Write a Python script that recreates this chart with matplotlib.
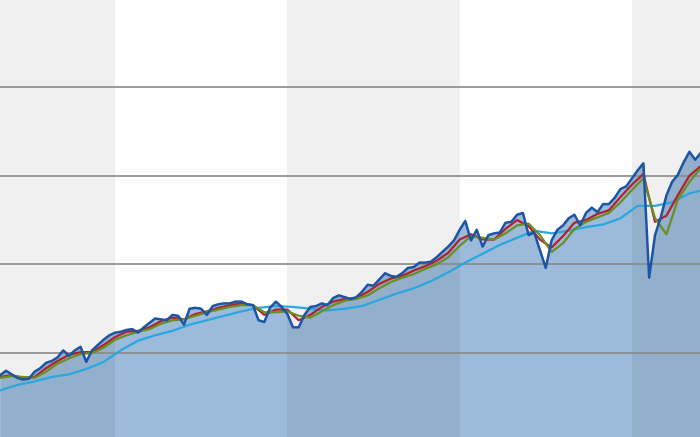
import matplotlib
matplotlib.use("Agg")
import matplotlib.pyplot as plt
import pandas as pd

# price series, sampled every two months
price_dates = pd.date_range("2001-09-01", periods=123, freq="2MS")
price = [75, 80, 76, 72, 70, 71, 79, 83, 89, 91,
         95, 103, 97, 103, 107, 90, 103, 109, 115, 120,
         123, 124, 126, 127, 123, 129, 134, 139, 138, 137,
         143, 142, 132, 150, 151, 150, 143, 153, 155, 156,
         156, 158, 158, 155, 154, 137, 135, 151, 158, 152,
         144, 129, 129, 143, 152, 153, 156, 154, 162, 165,
         163, 161, 163, 169, 177, 176, 183, 190, 187, 186,
         190, 196, 197, 202, 202, 203, 208, 214, 220, 227,
         239, 249, 227, 239, 220, 233, 235, 236, 247, 248,
         256, 258, 233, 236, 216, 196, 227, 239, 244, 252,
         256, 244, 258, 264, 259, 268, 268, 275, 285, 288,
         297, 306, 314, 185, 233, 253, 278, 293, 301, 315,
         327, 318, 326]

# short and medium averages, every four months
avg_dates = pd.date_range("2001-09-01", periods=62, freq="4MS")
avg_short = [73, 75, 72, 73, 83, 91, 98, 101, 101, 109,
             118, 124, 125, 129, 136, 140, 138, 144, 147, 151,
             154, 156, 154, 143, 149, 149, 137, 143, 152, 158,
             161, 162, 169, 178, 184, 187, 193, 198, 204, 213,
             228, 234, 228, 228, 240, 250, 243, 228, 219, 232,
             247, 250, 257, 261, 276, 290, 302, 248, 255, 278,
             300, 311]
avg_mid = [72, 74, 73, 72, 79, 88, 94, 99, 100, 106,
           115, 120, 124, 127, 133, 137, 138, 142, 146, 149,
           152, 154, 154, 146, 146, 147, 142, 140, 147, 154,
           159, 161, 165, 173, 180, 185, 189, 195, 200, 208,
           221, 232, 230, 228, 235, 244, 246, 233, 214, 224,
           240, 248, 253, 258, 270, 284, 297, 252, 234, 273,
           293, 309]

# long average, every six months
long_dates = pd.date_range("2001-09-01", periods=42, freq="6MS")
avg_long = [58, 64, 68, 73, 76, 82, 90, 103, 114, 120,
            125, 132, 137, 142, 147, 151, 153, 152, 150, 148,
            150, 153, 160, 167, 173, 181, 191, 202, 212, 222,
            230, 238, 235, 238, 242, 245, 252, 266, 266, 270,
            280, 285]

grid_levels = [100, 200, 300, 400]
shaded_spans = [("2001-01-01", "2005-01-01"), ("2010-01-01", "2015-01-01"),
                ("2020-01-01", "2023-01-01")]

fig = plt.figure(figsize=(7, 4.37), dpi=100)
ax = fig.add_axes([0, 0, 1, 1])

ax.fill_between(price_dates, price, 0, color="#3b76b5", alpha=0.5, lw=0, zorder=1)

# grey year bands laid over the area
for start, end in shaded_spans:
    ax.axvspan(pd.Timestamp(start), pd.Timestamp(end), color="black",
               alpha=0.06, lw=0, zorder=2)

for lv in grid_levels:
    ax.axhline(lv, color="#8a8a8a", lw=1.2, zorder=3)

ax.plot(long_dates, avg_long, color="#2aa7e0", lw=1.6, zorder=4)
ax.plot(avg_dates, avg_short, color="#b3202e", lw=1.6, zorder=5)
ax.plot(avg_dates, avg_mid, color="#6b8e23", lw=1.6, zorder=6)
ax.plot(price_dates, price, color="#1d55a5", lw=1.8, zorder=7)

ax.set_xlim(pd.Timestamp("2001-08-30"), pd.Timestamp("2021-12-22"))
ax.set_ylim(5.3, 498.2)
ax.axis("off")

plt.savefig("out.png", dpi=100, facecolor="white")
